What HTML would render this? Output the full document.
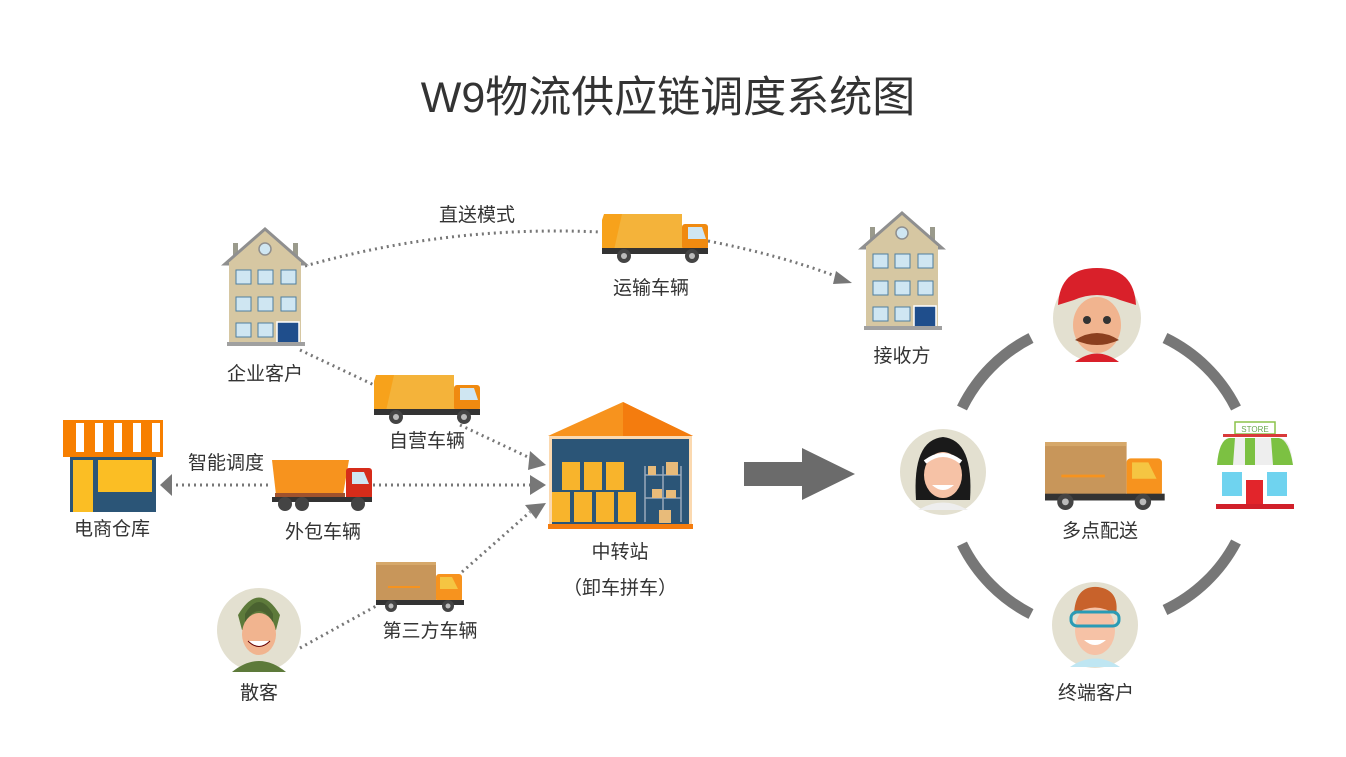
<!DOCTYPE html>
<html><head><meta charset="utf-8"><style>
html,body{margin:0;padding:0;background:#fff;}
svg{display:block;font-family:"Liberation Sans","Noto Sans CJK SC",sans-serif;}
</style></head><body>
<svg width="1346" height="757" viewBox="0 0 1346 757" xmlns="http://www.w3.org/2000/svg">
<defs>
 <g id="bld">
  <rect x="8" y="15" width="5" height="18" fill="#9a9a8c"/>
  <rect x="68" y="15" width="5" height="18" fill="#9a9a8c"/>
  <polygon points="40,1 0,36 80,36" fill="#d6c7a2" stroke="#8f8f8f" stroke-width="3"/>
  <rect x="4" y="34" width="72" height="84" fill="#d6c7a2"/>
  <circle cx="40" cy="21" r="6" fill="#cfe6f2" stroke="#8f8f8f" stroke-width="1.5"/>
  <g fill="#cfe6f2" stroke="#4f7fa0" stroke-width="1">
   <rect x="11" y="42" width="15" height="14"/><rect x="33" y="42" width="15" height="14"/><rect x="56" y="42" width="15" height="14"/>
   <rect x="11" y="69" width="15" height="14"/><rect x="33" y="69" width="15" height="14"/><rect x="56" y="69" width="15" height="14"/>
   <rect x="11" y="95" width="15" height="14"/><rect x="33" y="95" width="15" height="14"/>
  </g>
  <rect x="52" y="94" width="22" height="24" fill="#1f4e8c" stroke="#fff" stroke-width="1.5"/>
  <rect x="2" y="114" width="78" height="4" fill="#a0a0a0"/>
 </g>
 <g id="gtruck">
  <polygon points="2,4 80,4 80,40 0,40 0,10" fill="#f7a21b"/>
  <polygon points="20,4 80,4 80,40 12,40" fill="#f4b33a"/>
  <rect x="80" y="14" width="26" height="26" rx="3" fill="#f08a10"/>
  <polygon points="86,17 100,17 104,29 86,29" fill="#cfe6f2"/>
  <rect x="0" y="38" width="106" height="6" fill="#333"/>
  <circle cx="22" cy="46" r="7" fill="#444"/><circle cx="22" cy="46" r="3" fill="#bbb"/>
  <circle cx="90" cy="46" r="7" fill="#444"/><circle cx="90" cy="46" r="3" fill="#bbb"/>
 </g>
 <g id="btruck">
  <rect x="0" y="0" width="60" height="40" fill="#c8965a"/>
  <rect x="0" y="0" width="60" height="3" fill="#d6a86a"/>
  <rect x="60" y="12" width="26" height="28" rx="3" fill="#f7931e"/>
  <polygon points="64,15 76,15 82,27 64,27" fill="#f5c542"/>
  <rect x="0" y="38" width="88" height="5" fill="#333"/>
  <circle cx="15" cy="44" r="6" fill="#444"/><circle cx="15" cy="44" r="2.5" fill="#bbb"/>
  <circle cx="72" cy="44" r="6" fill="#444"/><circle cx="72" cy="44" r="2.5" fill="#bbb"/>
  <path d="M12 25 H44" stroke="#f7931e" stroke-width="2"/>
 </g>
</defs>

<text x="668" y="112" text-anchor="middle" font-size="43" fill="#333">W9物流供应链调度系统图</text>

<g fill="none" stroke="#777" stroke-width="3" stroke-dasharray="2 4">
 <path d="M305 266 Q450 225 600 232"/>
 <path d="M708 241 Q780 255 838 277"/>
 <path d="M300 350 L374 385"/>
 <path d="M460 425 L530 458"/>
 <path d="M170 485 L272 485"/>
 <path d="M373 485 L530 485"/>
 <path d="M300 648 L378 605"/>
 <path d="M462 572 L530 512"/>
</g>
<g fill="#777">
 <polygon points="852,283 836,271 833,284"/>
 <polygon points="546,465 530,451 528,470"/>
 <polygon points="546,485 530,475 530,495"/>
 <polygon points="546,503 525,505 536,519"/>
 <polygon points="160,485 172,474 172,496"/>
</g>

<text x="477" y="221" text-anchor="middle" font-size="19" fill="#333">直送模式</text>
<use href="#bld" x="225" y="228"/>
<text x="265" y="380" text-anchor="middle" font-size="19" fill="#333">企业客户</text>
<use href="#bld" x="862" y="212"/>
<text x="902" y="362" text-anchor="middle" font-size="19" fill="#333">接收方</text>

<use href="#gtruck" x="602" y="210"/>
<text x="651" y="294" text-anchor="middle" font-size="19" fill="#333">运输车辆</text>
<use href="#gtruck" x="374" y="371"/>
<text x="427" y="447" text-anchor="middle" font-size="19" fill="#333">自营车辆</text>

<g transform="translate(272,459)">
 <polygon points="0,1 77,1 71,36 4,36" fill="#f7931e"/>
 <rect x="3" y="34" width="70" height="6" fill="#a0522d"/>
 <rect x="74" y="9" width="26" height="33" rx="3" fill="#d62c1a"/>
 <polygon points="80,13 92,13 97,25 80,25" fill="#cfe6f2"/>
 <rect x="0" y="38" width="100" height="5" fill="#333"/>
 <circle cx="13" cy="45" r="7" fill="#444"/><circle cx="30" cy="45" r="7" fill="#444"/><circle cx="86" cy="45" r="7" fill="#444"/>
</g>
<text x="226" y="469" text-anchor="middle" font-size="19" fill="#333">智能调度</text>
<text x="323" y="538" text-anchor="middle" font-size="19" fill="#333">外包车辆</text>

<g transform="translate(63,420)">
 <rect x="0" y="0" width="100" height="37" fill="#f77f00"/>
 <g fill="#fff"><rect x="13" y="3" width="8" height="29"/><rect x="32" y="3" width="8" height="29"/><rect x="51" y="3" width="8" height="29"/><rect x="70" y="3" width="8" height="29"/><rect x="89" y="3" width="8" height="29"/></g>
 <rect x="7" y="37" width="86" height="55" fill="#2b5577"/>
 <rect x="10" y="40" width="20" height="52" fill="#fbbe24"/>
 <rect x="35" y="40" width="54" height="32" fill="#fbbe24"/>
</g>
<text x="112" y="535" text-anchor="middle" font-size="19" fill="#333">电商仓库</text>

<g transform="translate(548,402)">
 <polygon points="75,0 0,34 145,34" fill="#f7931e"/>
 <polygon points="75,0 145,34 75,34" fill="#f47c0e"/>
 <rect x="1" y="34" width="143" height="90" fill="#fbd9b0"/>
 <rect x="4" y="37" width="137" height="86" fill="#2b5577"/>
 <g fill="#f8b42c">
  <rect x="14" y="60" width="18" height="28"/><rect x="36" y="60" width="18" height="28"/><rect x="58" y="60" width="18" height="28"/>
  <rect x="4" y="90" width="18" height="30"/><rect x="26" y="90" width="18" height="30"/><rect x="48" y="90" width="18" height="30"/><rect x="70" y="90" width="18" height="30"/>
 </g>
 <g stroke="#9ab" stroke-width="1.5"><path d="M97 64 V120 M115 64 V120 M133 64 V120 M97 73 H133 M97 96 H133"/></g>
 <g fill="#e8bb7a"><rect x="100" y="64" width="8" height="9"/><rect x="118" y="60" width="12" height="13"/><rect x="104" y="87" width="10" height="9"/><rect x="118" y="88" width="10" height="8"/><rect x="111" y="108" width="12" height="13"/></g>
 <rect x="0" y="122" width="145" height="5" fill="#f47c0e"/>
</g>
<text x="620" y="558" text-anchor="middle" font-size="19" fill="#333">中转站</text>
<text x="620" y="594" text-anchor="middle" font-size="19" fill="#333">（卸车拼车）</text>

<use href="#btruck" x="376" y="562"/>
<text x="430" y="637" text-anchor="middle" font-size="19" fill="#333">第三方车辆</text>

<g>
 <circle cx="259" cy="630" r="42" fill="#e3e0d0"/>
 <path d="M238 615 Q259 580 280 615 L276 630 L242 630 Z" fill="#5d7a3a"/>
 <ellipse cx="259" cy="634" rx="17" ry="21" fill="#f1b48f"/>
 <path d="M245 622 Q259 600 273 622 L273 614 Q259 590 245 614 Z" fill="#4a6230"/>
 <path d="M248 641 Q259 652 270 641" fill="#fff" stroke="#600" stroke-width="1"/>
 <path d="M232 672 Q259 650 286 672" fill="#5d7a3a"/>
</g>
<text x="259" y="699" text-anchor="middle" font-size="19" fill="#333">散客</text>

<polygon points="744,462 802,462 802,448 855,474 802,500 802,486 744,486" fill="#6b6b6b"/>

<g fill="none" stroke="#777" stroke-width="11">
 <path d="M1031 338 A155 155 0 0 0 962 408"/>
 <path d="M1165 338 A155 155 0 0 1 1236 408"/>
 <path d="M962 544 A155 155 0 0 0 1031 614"/>
 <path d="M1236 542 A155 155 0 0 1 1165 610"/>
</g>

<circle cx="1097" cy="318" r="44" fill="#e3e0d0"/>
<ellipse cx="1097" cy="325" rx="24" ry="28" fill="#f1b48f"/>
<path d="M1058 305 Q1060 268 1097 268 Q1134 268 1136 305 L1120 300 Q1097 290 1074 300 Z" fill="#d9202a"/>
<path d="M1075 340 Q1097 326 1119 340 Q1097 350 1075 340" fill="#8b3f1f"/>
<path d="M1075 362 Q1097 345 1119 362" fill="#d9202a"/>
<circle cx="1087" cy="320" r="4" fill="#333"/><circle cx="1107" cy="320" r="4" fill="#333"/>

<circle cx="943" cy="472" r="43" fill="#e3e0d0"/>
<path d="M916 500 Q912 440 943 437 Q974 440 970 500 Z" fill="#1a1a1a"/>
<ellipse cx="943" cy="475" rx="19" ry="23" fill="#f6c2a6"/>
<path d="M925 462 Q943 448 961 462" fill="none" stroke="#fff" stroke-width="4"/>
<path d="M932 485 Q943 495 954 485" fill="#fff"/>
<path d="M918 510 Q943 495 968 510" fill="#eee"/>

<g transform="translate(1215,420)">
 <rect x="20" y="2" width="40" height="12" fill="#fff" stroke="#8bc34a" stroke-width="1.5"/>
 <text x="40" y="12" text-anchor="middle" font-size="8" fill="#6aa84f">STORE</text>
 <rect x="8" y="14" width="64" height="3" fill="#d93a3a"/>
 <path d="M2 45 Q4 20 14 18 H66 Q76 20 78 45 Z" fill="#eee"/>
 <path d="M2 45 Q4 20 14 18 L20 18 L18 45 Z M30 18 H40 V45 H30 Z M56 18 H64 Q74 20 78 45 H58 Z" fill="#7cc142"/>
 <rect x="6" y="45" width="68" height="38" fill="#fff"/>
 <rect x="7" y="52" width="20" height="24" fill="#6fd3ef"/><rect x="52" y="52" width="20" height="24" fill="#6fd3ef"/>
 <rect x="31" y="60" width="17" height="25" fill="#e2252b"/>
 <rect x="1" y="84" width="78" height="5" fill="#d1202a"/>
</g>

<circle cx="1095" cy="625" r="43" fill="#e3e0d0"/>
<ellipse cx="1095" cy="630" rx="20" ry="25" fill="#f6c2a6"/>
<path d="M1074 615 Q1075 585 1098 587 Q1120 590 1116 615 Q1095 600 1074 615" fill="#c8622b"/>
<rect x="1071" y="612" width="48" height="14" rx="6" fill="none" stroke="#2a9bb5" stroke-width="3"/>
<path d="M1084 640 Q1095 650 1106 640" fill="#fff"/>
<path d="M1070 667 Q1095 650 1120 667" fill="#bfe6f2"/>

<g transform="translate(1045,442) scale(1.36)"><use href="#btruck"/></g>
<text x="1100" y="537" text-anchor="middle" font-size="19" fill="#333">多点配送</text>
<text x="1096" y="699" text-anchor="middle" font-size="19" fill="#333">终端客户</text>
</svg>
</body></html>
